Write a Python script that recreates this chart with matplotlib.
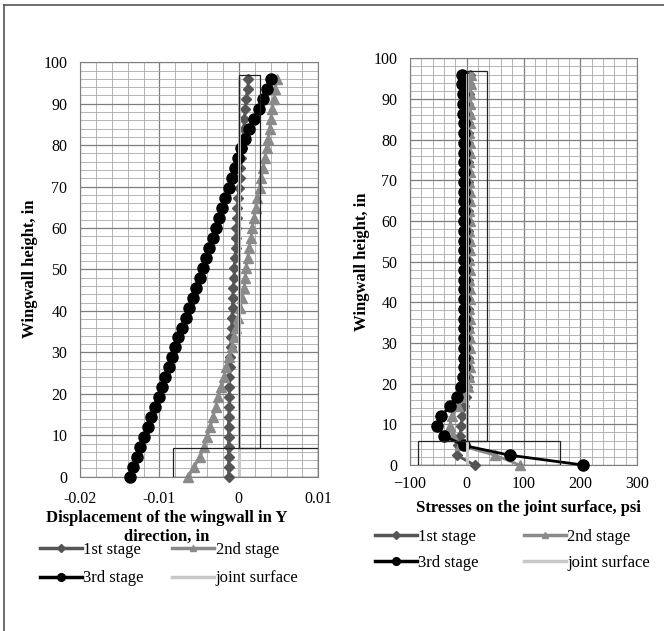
import matplotlib
matplotlib.use('Agg')
import matplotlib.pyplot as plt
from matplotlib.patches import Rectangle
from matplotlib.lines import Line2D
from matplotlib.ticker import MultipleLocator

plt.rcParams['font.family'] = ['Liberation Serif', 'DejaVu Serif']

# wall heights (in)
heights = [0, 2.4, 4.8, 7.2, 9.6, 12.0, 14.4, 16.8, 19.2, 21.6,
           24.0, 26.4, 28.8, 31.2, 33.6, 36.0, 38.4, 40.8, 43.2, 45.6,
           48.0, 50.4, 52.8, 55.2, 57.6, 60.0, 62.4, 64.8, 67.2, 69.6,
           72.0, 74.4, 76.8, 79.2, 81.6, 84.0, 86.4, 88.8, 91.2, 93.6,
           96.0]

# displacement in Y (in)
disp_1st = [-0.0013, -0.0013, -0.0013, -0.0013, -0.0013, -0.0013, -0.0013, -0.0012, -0.0012, -0.0012,
            -0.0012, -0.0011, -0.0011, -0.0010, -0.0010, -0.0009, -0.0009, -0.0008, -0.0008, -0.0007,
            -0.0006, -0.0006, -0.0005, -0.0004, -0.0004, -0.0003, -0.0002, -0.0002, -0.0001, 0.0000,
            0.0001, 0.0002, 0.0003, 0.0004, 0.0005, 0.0006, 0.0007, 0.0008, 0.0009, 0.0011,
            0.0012]
disp_2nd = [-0.0064, -0.0056, -0.0049, -0.0044, -0.0040, -0.0036, -0.0033, -0.0029, -0.0026, -0.0022,
            -0.0019, -0.0016, -0.0012, -0.0009, -0.0006, -0.0004, -0.0001, 0.0002, 0.0004, 0.0007,
            0.0008, 0.0009, 0.0011, 0.0013, 0.0015, 0.0017, 0.0019, 0.0021, 0.0023, 0.0026,
            0.0028, 0.0030, 0.0033, 0.0035, 0.0037, 0.0039, 0.0040, 0.0042, 0.0044, 0.0046,
            0.0048]
disp_3rd = [-0.0137, -0.0133, -0.0128, -0.0124, -0.0119, -0.0115, -0.0110, -0.0106, -0.0101, -0.0097,
            -0.0093, -0.0088, -0.0084, -0.0080, -0.0076, -0.0072, -0.0067, -0.0063, -0.0058, -0.0054,
            -0.0049, -0.0045, -0.0041, -0.0037, -0.0033, -0.0029, -0.0025, -0.0021, -0.0017, -0.0013,
            -0.0009, -0.0005, -0.0001, 0.0003, 0.0008, 0.0013, 0.0019, 0.0025, 0.0031, 0.0036,
            0.0041]

# stresses on the joint surface (psi)
stress_1st = [14, -18, -15, -12, -10, -8, -5, -2, 0, 2,
              2, 3, 3, 2, 3, 2, 2, 3, 3, 2,
              3, 2, 3, 3, 2, 2, 3, 2, 3, 3,
              2, 3, 2, 2, 3, 3, 2, 3, 4, 4,
              5]
stress_2nd = [93, 50, -12, -25, -30, -26, -16, -6, 2, 4,
              5, 4, 5, 5, 4, 5, 4, 5, 5, 4,
              5, 4, 5, 5, 4, 5, 4, 5, 5, 4,
              5, 4, 5, 5, 4, 5, 5, 6, 6, 7,
              8]
stress_3rd = [205, 76, -5, -40, -52, -45, -30, -18, -11, -7,
              -5, -4, -5, -5, -4, -5, -4, -5, -5, -4,
              -5, -4, -5, -5, -4, -5, -4, -5, -5, -4,
              -5, -4, -5, -5, -4, -5, -6, -6, -7, -8,
              -9]
joint_h = [0, 96]
joint_x = [0, 0]

disp_ticks = [-0.02, -0.01, 0, 0.01]
disp_labels = ['-0.02', '-0.01', '0', '0.01']
stress_ticks = [-100, 0, 100, 200, 300]

W, H = 664, 631
fig = plt.figure(figsize=(W / 100, H / 100), dpi=100)


def px(x0, y0, x1, y1):
    return [x0 / W, 1 - y1 / H, (x1 - x0) / W, (y1 - y0) / H]


ax1 = fig.add_axes(px(80, 62.3, 318.3, 476.7))
ax2 = fig.add_axes(px(410, 58.3, 637, 465))

c1, c2, c3, cj = '#555555', '#8a8a8a', '#000000', '#c8c8c8'


def draw(ax, x1, x2, x3):
    ax.plot(x1, heights, color=c1, lw=2, marker='D', ms=5.5, clip_on=False, zorder=3)
    ax.plot(x2, heights, color=c2, lw=2, marker='^', ms=6.5, clip_on=False, zorder=3)
    ax.plot(x3, heights, color=c3, lw=2, marker='o', ms=8, clip_on=False, zorder=4)
    ax.plot(joint_x, joint_h, color=cj, lw=2.2, zorder=5)
    ax.set_ylim(0, 100)
    ax.yaxis.set_major_locator(MultipleLocator(10))
    ax.yaxis.set_minor_locator(MultipleLocator(2))
    ax.grid(which='major', color='#7f7f7f', lw=0.9)
    ax.grid(which='minor', color='#a8a8a8', lw=0.6)
    ax.set_axisbelow(True)
    ax.tick_params(which='both', length=0, labelsize=11.5)
    ax.tick_params(axis='y', pad=9)
    for s in ax.spines.values():
        s.set_color('#7f7f7f')


draw(ax1, disp_1st, disp_2nd, disp_3rd)
ax1.set_xlim(-0.02, 0.01)
ax1.set_xticks(disp_ticks)
ax1.set_xticklabels(disp_labels)
ax1.xaxis.set_minor_locator(MultipleLocator(0.002))
ax1.tick_params(axis='x', pad=10)
ax1.add_patch(Rectangle((0, 7), 0.0027, 90, fill=False, ec='#222222', lw=0.9, zorder=6))
ax1.add_patch(Rectangle((-0.0083, 0), 0.0183, 7, fill=False, ec='#222222', lw=0.9, zorder=6))

draw(ax2, stress_1st, stress_2nd, stress_3rd)
ax2.set_xlim(-100, 300)
ax2.set_xticks(stress_ticks)
ax2.xaxis.set_minor_locator(MultipleLocator(20))
ax2.tick_params(axis='x', pad=8)
ax2.add_patch(Rectangle((0, 6), 36, 91, fill=False, ec='#222222', lw=0.9, zorder=6))
ax2.add_patch(Rectangle((-86, 0), 251, 6, fill=False, ec='#222222', lw=0.9, zorder=6))

bold = dict(fontsize=12, fontweight='bold', ha='center', va='center')
fig.text(30 / W, 1 - 269 / H, 'Wingwall height, in', rotation=90, **bold)
fig.text(362 / W, 1 - 262 / H, 'Wingwall height, in', rotation=90, **bold)
fig.text(167 / W, 1 - 518 / H, 'Displacement of the wingwall in Y', **bold)
fig.text(167 / W, 1 - 537 / H, 'direction, in', **bold)
fig.text(528 / W, 1 - 508 / H, 'Stresses on the joint surface, psi', **bold)

handles = [Line2D([], [], color=c1, lw=2.5, marker='D', ms=4),
           Line2D([], [], color=c3, lw=2.5, marker='o', ms=5.5),
           Line2D([], [], color=c2, lw=2.5, marker='^', ms=5),
           Line2D([], [], color=cj, lw=2.5)]
labels = ['1st stage', '3rd stage', '2nd stage', 'joint surface']

fig.legend(handles, labels, ncol=2, loc='upper left', bbox_to_anchor=(40 / W, 1 - 542 / H),
           frameon=False, fontsize=12, borderpad=0, borderaxespad=0, handlelength=2.5,
           handletextpad=0.1, columnspacing=1.7, labelspacing=0.75)
fig.legend(handles, labels, ncol=2, loc='upper left', bbox_to_anchor=(375 / W, 1 - 529 / H),
           frameon=False, fontsize=12, borderpad=0, borderaxespad=0, handlelength=2.5,
           handletextpad=0.1, columnspacing=2.7, labelspacing=0.6)

# outer frame of the screenshot (left and top edges only)
fig.add_artist(Line2D([4 / W, 4 / W], [0, 1 - 5 / H], color='#555555', lw=1.2))
fig.add_artist(Line2D([4 / W, 1], [1 - 5 / H, 1 - 5 / H], color='#555555', lw=1.2))

fig.savefig('out.png', dpi=100)
